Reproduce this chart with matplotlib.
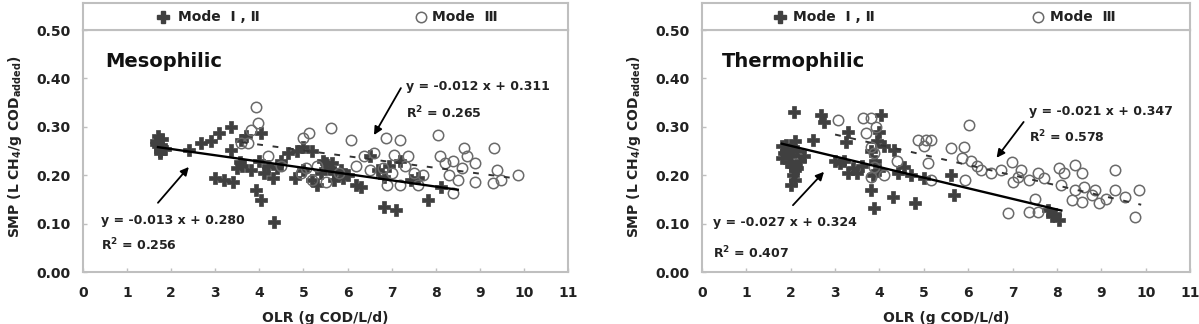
import matplotlib
matplotlib.use("Agg")
import matplotlib.pyplot as plt
import numpy as np

# ---------------- data ----------------
x_ticks = list(range(0, 12))
y_ticks = [0.0, 0.1, 0.2, 0.3, 0.4, 0.5]
y_ticklabels = ["0.00", "0.10", "0.20", "0.30", "0.40", "0.50"]

# Mesophilic, Mode I,II (filled)
meso_f_x = [1.65, 1.70, 1.75, 1.80, 1.70, 1.85, 1.75, 1.65, 1.80, 2.40,
            2.68, 2.90, 3.08, 3.36, 3.58, 3.36, 3.50, 3.60, 3.00, 3.20,
            3.40, 3.92, 4.03, 4.33, 4.03, 3.80, 4.00, 4.20, 4.65, 4.85,
            5.00, 5.20, 4.80, 5.00, 5.20, 5.40, 5.60, 5.70, 5.70, 5.90,
            6.20, 6.30, 6.83, 7.10, 7.82, 8.12, 6.70, 6.83, 7.44, 3.70,
            4.40, 5.50, 6.00, 4.50, 5.30, 6.50, 7.20, 4.10, 4.30, 5.45,
            5.65, 5.85, 3.55, 6.95, 7.60]
meso_f_y = [0.270, 0.260, 0.250, 0.275, 0.280, 0.255, 0.245, 0.265, 0.258, 0.252,
            0.267, 0.270, 0.287, 0.300, 0.273, 0.252, 0.215, 0.220, 0.195, 0.190,
            0.186, 0.170, 0.149, 0.103, 0.287, 0.210, 0.230, 0.220, 0.245, 0.250,
            0.258, 0.250, 0.195, 0.210, 0.190, 0.205, 0.215, 0.190, 0.205, 0.195,
            0.180, 0.175, 0.134, 0.128, 0.149, 0.176, 0.210, 0.196, 0.190, 0.280,
            0.215, 0.225, 0.200, 0.230, 0.180, 0.240, 0.230, 0.205, 0.195, 0.230,
            0.225, 0.210, 0.228, 0.220, 0.195]

# Mesophilic, Mode III (open)
meso_o_x = [3.92, 3.97, 3.81, 3.74, 3.58, 5.62, 5.12, 5.00, 5.05, 4.95,
            5.30, 5.20, 5.50, 6.08, 6.87, 7.20, 8.05, 8.64, 9.32, 6.37,
            6.60, 7.05, 7.37, 6.50, 6.80, 7.00, 7.30, 7.50, 7.70, 6.90,
            7.20, 8.10, 8.20, 8.40, 8.60, 8.30, 8.50, 8.90, 8.40, 9.40,
            9.48, 9.86, 9.30, 8.90, 6.20, 5.80, 4.50, 4.20, 7.60, 8.70]
meso_o_y = [0.341, 0.308, 0.293, 0.267, 0.267, 0.298, 0.287, 0.277, 0.215, 0.205,
            0.220, 0.190, 0.185, 0.272, 0.276, 0.273, 0.283, 0.256, 0.256, 0.240,
            0.245, 0.242, 0.240, 0.210, 0.215, 0.205, 0.220, 0.205, 0.200, 0.180,
            0.180, 0.240, 0.225, 0.230, 0.215, 0.200, 0.190, 0.225, 0.163, 0.210,
            0.190, 0.200, 0.183, 0.185, 0.220, 0.205, 0.220, 0.240, 0.180, 0.240]

# Thermophilic, Mode I,II (filled)
thermo_f_x = [2.08, 2.69, 2.75, 4.04, 2.50, 1.80, 1.90, 2.00, 1.80, 2.10,
              2.00, 2.10, 2.05, 2.10, 2.00, 2.20, 1.90, 2.15, 1.85, 3.30,
              3.25, 3.20, 3.30, 3.40, 3.10, 3.80, 3.90, 4.00, 3.85, 3.81,
              3.88, 4.33, 4.31, 4.79, 4.56, 4.42, 5.62, 5.67, 7.80, 8.04,
              7.90, 4.00, 3.60, 4.10, 2.30, 3.00, 4.70, 5.00, 1.95, 2.05,
              2.15, 3.50, 3.95, 7.95]
thermo_f_y = [0.331, 0.324, 0.310, 0.324, 0.273, 0.260, 0.250, 0.240, 0.235, 0.270,
              0.220, 0.210, 0.200, 0.190, 0.180, 0.230, 0.262, 0.250, 0.245, 0.290,
              0.268, 0.230, 0.205, 0.215, 0.225, 0.250, 0.230, 0.210, 0.200, 0.170,
              0.132, 0.252, 0.155, 0.142, 0.217, 0.205, 0.200, 0.159, 0.128, 0.107,
              0.115, 0.290, 0.220, 0.260, 0.240, 0.230, 0.200, 0.195, 0.228, 0.255,
              0.215, 0.205, 0.270, 0.120]

# Thermophilic, Mode III (open)
thermo_o_x = [3.07, 3.63, 3.81, 3.70, 3.93, 3.80, 3.88, 4.88, 5.05, 5.17,
              5.00, 5.10, 5.17, 5.62, 6.02, 5.90, 3.81, 3.88, 5.85, 6.07,
              5.92, 6.30, 6.52, 6.75, 6.98, 7.13, 7.36, 7.58, 7.72, 8.04,
              8.17, 8.40, 8.56, 8.10, 8.40, 8.62, 8.85, 8.33, 8.56, 8.94,
              9.30, 9.53, 9.84, 9.30, 6.90, 7.36, 7.58, 9.75, 7.00, 7.50,
              6.20, 4.40, 4.10, 8.80, 9.10, 7.20]
thermo_o_y = [0.314, 0.318, 0.318, 0.287, 0.300, 0.258, 0.246, 0.273, 0.273, 0.273,
              0.260, 0.225, 0.190, 0.256, 0.303, 0.258, 0.196, 0.217, 0.235, 0.230,
              0.190, 0.211, 0.204, 0.211, 0.227, 0.196, 0.190, 0.204, 0.194, 0.215,
              0.204, 0.221, 0.204, 0.180, 0.169, 0.176, 0.169, 0.149, 0.145, 0.142,
              0.169, 0.155, 0.169, 0.211, 0.122, 0.124, 0.124, 0.114, 0.185, 0.150,
              0.220, 0.230, 0.200, 0.160, 0.150, 0.210]

# trend lines (end points)
meso_f_trend_x = [1.70, 8.50]
meso_f_trend_y = [0.258, 0.170]
meso_o_trend_x = [3.60, 9.85]
meso_o_trend_y = [0.268, 0.193]
thermo_f_trend_x = [1.80, 8.10]
thermo_f_trend_y = [0.265, 0.127]
thermo_o_trend_x = [3.00, 9.90]
thermo_o_trend_y = [0.284, 0.139]

panel_titles = ["Mesophilic", "Thermophilic"]
eq_top = ["y = -0.012 x + 0.311", "y = -0.021 x + 0.347"]
r2_top = ["0.265", "0.578"]
eq_bot = ["y = -0.013 x + 0.280", "y = -0.027 x + 0.324"]
r2_bot = ["0.256", "0.407"]
legend_labels = ["Mode  \u2160 , \u2161", "Mode  \u2162"]

# ---------------- style ----------------
W, H = 1199, 324
fig = plt.figure(figsize=(W / 100, H / 100), dpi=100)
plt.rcParams['font.family'] = ['DejaVu Sans']
plt.rcParams['mathtext.fontset'] = 'dejavusans'

spine_c = '#bfbfbf'
fill_c = '#404040'
open_c = '#6a6a6a'
txt_c = '#222222'
f_ms = 8.5
o_ms = 7.5

panels = [
    dict(x0=83, x1=568, fx=meso_f_x, fy=meso_f_y, ox=meso_o_x, oy=meso_o_y,
         ftx=meso_f_trend_x, fty=meso_f_trend_y, otx=meso_o_trend_x, oty=meso_o_trend_y,
         title_xy=(0.50, 0.434),
         eqt_xy=(7.32, 0.384), eqt_dy=0.056,
         eqb_xy=(0.41, 0.107), eqb_dy=0.051,
         arr_t=((7.21, 0.380), (6.60, 0.283)),
         arr_b=((1.70, 0.143), (2.40, 0.217)),
         leg=((163, 17), (178, 17), (421, 17), (432, 17))),
    dict(x0=702, x1=1190, fx=thermo_f_x, fy=thermo_f_y, ox=thermo_o_x, oy=thermo_o_y,
         ftx=thermo_f_trend_x, fty=thermo_f_trend_y, otx=thermo_o_trend_x, oty=thermo_o_trend_y,
         title_xy=(0.45, 0.434),
         eqt_xy=(7.36, 0.331), eqt_dy=0.052,
         eqb_xy=(0.25, 0.103), eqb_dy=0.064,
         arr_t=((7.25, 0.310), (6.64, 0.236)),
         arr_b=((2.05, 0.138), (2.75, 0.207)),
         leg=((780, 17), (793, 17), (1038, 17), (1050, 17))),
]

ax_top_px, ax_bot_px, box_top_px = 30, 272, 3

for i, p in enumerate(panels):
    left = p['x0'] / W
    width = (p['x1'] - p['x0']) / W
    ax = fig.add_axes([left, 1 - ax_bot_px / H, width, (ax_bot_px - ax_top_px) / H])
    ax.set_xlim(0, 11)
    ax.set_ylim(0, 0.5)
    for s in ax.spines.values():
        s.set_color(spine_c)
        s.set_linewidth(1.5)
    ax.set_xticks(x_ticks)
    ax.set_yticks(y_ticks)
    ax.set_yticklabels(y_ticklabels)
    ax.tick_params(direction='in', length=3, color=spine_c, width=1,
                   labelsize=10, labelcolor=txt_c)
    ax.tick_params(axis='y', pad=9)
    ax.tick_params(axis='x', pad=10)
    for lab in ax.get_xticklabels() + ax.get_yticklabels():
        lab.set_fontweight('bold')

    ax.plot(p['fx'], p['fy'], linestyle='none', marker='P', markersize=f_ms,
            color=fill_c, markeredgecolor=fill_c, markeredgewidth=0.5, zorder=3)
    ax.plot(p['ox'], p['oy'], linestyle='none', marker='o', markersize=o_ms,
            markerfacecolor='none', markeredgecolor=open_c, markeredgewidth=1.1, zorder=3)
    ax.plot(p['ftx'], p['fty'], color='black', lw=1.7, zorder=4)
    ax.plot(p['otx'], p['oty'], color='#333333', lw=1.4, linestyle=(0, (3, 5)), zorder=4)

    ax.text(p['title_xy'][0], p['title_xy'][1], panel_titles[i], fontsize=14,
            fontweight='bold', color='#111111', va='center', ha='left')

    ex, ey = p['eqt_xy']
    ax.text(ex, ey, eq_top[i], fontsize=9, fontweight='bold', color=txt_c, va='center', ha='left')
    ax.text(ex, ey - p['eqt_dy'], r"R$^{\mathbf{2}}$ = " + r2_top[i], fontsize=9,
            fontweight='bold', color=txt_c, va='center', ha='left')
    ex, ey = p['eqb_xy']
    ax.text(ex, ey, eq_bot[i], fontsize=9, fontweight='bold', color=txt_c, va='center', ha='left')
    ax.text(ex, ey - p['eqb_dy'], r"R$^{\mathbf{2}}$ = " + r2_bot[i], fontsize=9,
            fontweight='bold', color=txt_c, va='center', ha='left')

    for tail, head in (p['arr_t'], p['arr_b']):
        ax.annotate('', xy=head, xytext=tail,
                    arrowprops=dict(arrowstyle='-|>', color='black', lw=1.3,
                                    mutation_scale=12, shrinkA=0, shrinkB=0), zorder=5)

    ax.text(0.5, -0.19, "OLR (g COD/L/d)", transform=ax.transAxes, fontsize=10,
            fontweight='bold', color=txt_c, ha='center', va='center')
    ax.text(-0.140, 0.52, r"SMP (L CH$_\mathbf{4}$/g COD$_{\mathbf{added}}$)",
            transform=ax.transAxes, fontsize=10, fontweight='bold', color=txt_c,
            ha='center', va='center', rotation=90)

    # legend box above the plot area
    lax = fig.add_axes([left, 1 - ax_top_px / H, width, (ax_top_px - box_top_px) / H])
    lax.set_xlim(p['x0'], p['x1'])
    lax.set_ylim(ax_top_px, box_top_px)
    lax.set_xticks([])
    lax.set_yticks([])
    for s in lax.spines.values():
        s.set_color(spine_c)
        s.set_linewidth(1.5)
    (m1, t1, m2, t2) = p['leg']
    lax.plot([m1[0]], [m1[1]], marker='P', markersize=f_ms, color=fill_c, linestyle='none')
    lax.text(t1[0], t1[1], legend_labels[0], fontsize=10, fontweight='bold',
             color=txt_c, va='center', ha='left')
    lax.plot([m2[0]], [m2[1]], marker='o', markersize=o_ms, markerfacecolor='none',
             markeredgecolor=open_c, markeredgewidth=1.1, linestyle='none')
    lax.text(t2[0], t2[1], legend_labels[1], fontsize=10, fontweight='bold',
             color=txt_c, va='center', ha='left')

fig.savefig("out.png", dpi=100)
